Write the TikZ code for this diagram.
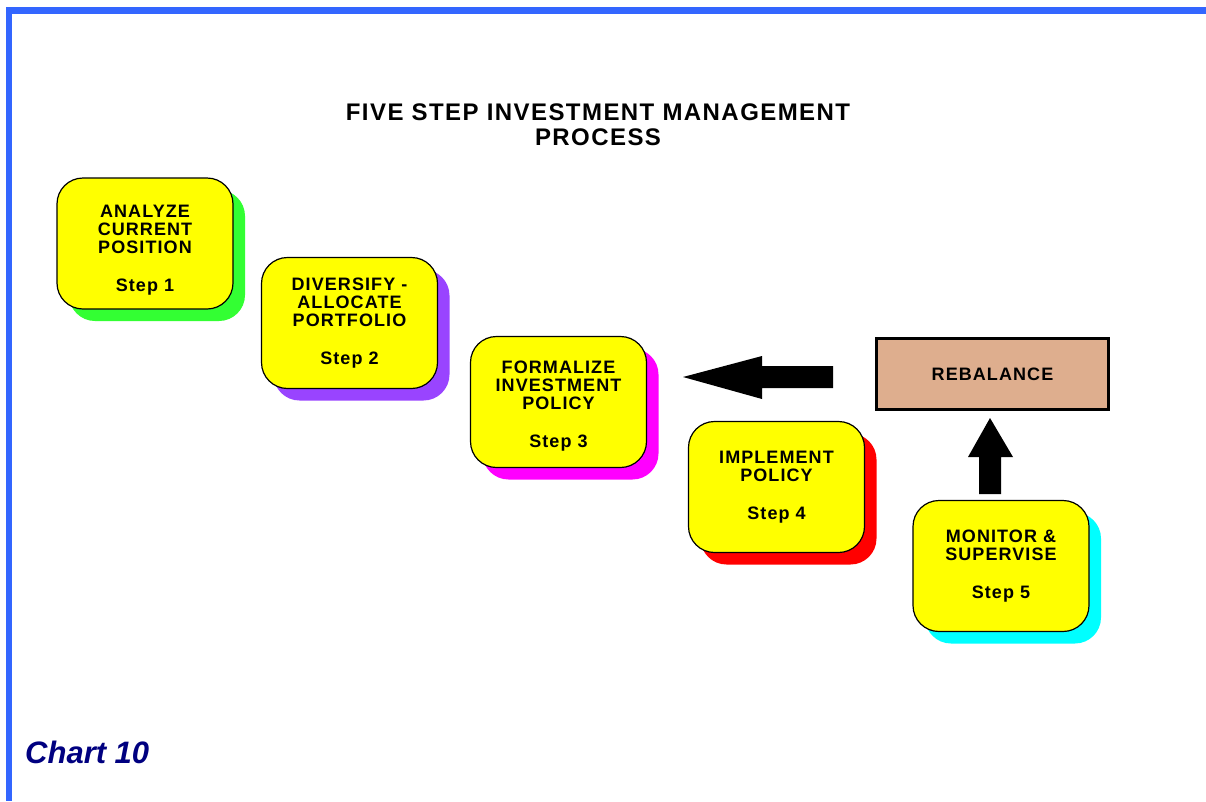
\documentclass[tikz,border=0pt]{standalone}
\usepackage{fontspec}
\usetikzlibrary{shadows}
\newfontfamily\lblfont[LetterSpace=6]{Liberation Sans}
\newfontfamily\chartfont{Liberation Sans}
\definecolor{bordblue}{RGB}{51,102,255}
\definecolor{boxyellow}{RGB}{255,255,0}
\definecolor{shgreen}{RGB}{51,255,51}
\definecolor{shpurple}{RGB}{153,68,255}
\definecolor{shmagenta}{RGB}{255,0,255}
\definecolor{shred}{RGB}{255,0,0}
\definecolor{shcyan}{RGB}{0,255,255}
\definecolor{tan}{RGB}{222,174,142}
\definecolor{navy}{RGB}{0,0,128}
\tikzset{
  stepbox/.style={draw=black, line width=1.2pt, fill=boxyellow, rounded corners=26pt,
    minimum width=176pt, minimum height=131pt, inner sep=0pt, align=center,
    font=\lblfont\bfseries\fontsize{18}{18}\selectfont},
  shade/.style={drop shadow={shadow xshift=12pt, shadow yshift=-12pt, fill=#1, opacity=1}},
  blockarrow/.style={fill=black, draw=none},
}
\begin{document}
\begin{tikzpicture}[x=1pt,y=-1pt]
\useasboundingbox (0,0) rectangle (1206,801);
\fill[white] (0,0) rectangle (1206,801);
% border
\fill[bordblue] (5.7,7.3) rectangle (1206,14.3);
\fill[bordblue] (5.7,7.3) rectangle (12,801);
% title
\node[align=center, font=\lblfont\bfseries\fontsize{24}{25}\selectfont] (title) at (598,125)
  {FIVE STEP INVESTMENT MANAGEMENT\\PROCESS};
% steps
\node[stepbox, shade=shgreen] (s1) at (145,243.5) {\rule{0pt}{25pt}ANALYZE\\CURRENT\\POSITION\\[20pt]Step 1};
\node[stepbox, shade=shpurple] (s2) at (349.5,323) {DIVERSIFY -\\ALLOCATE\\PORTFOLIO\\[20pt]Step 2};
\node[stepbox, shade=shmagenta] (s3) at (558.5,402) {\rule{0pt}{21pt}FORMALIZE\\INVESTMENT\\POLICY\\[20pt]Step 3};
\node[stepbox, shade=shred] (s4) at (776.5,487) {IMPLEMENT\\POLICY\\[20pt]Step 4};
\node[stepbox, shade=shcyan] (s5) at (1001,566) {MONITOR \&\\SUPERVISE\\[20pt]Step 5};
% rebalance
\node[draw=black, line width=3pt, fill=tan, minimum width=232pt, minimum height=71pt,
  inner sep=0pt, font=\lblfont\bfseries\fontsize{18}{18}\selectfont] (reb) at (992.5,374) {REBALANCE};
% block arrows
\fill[blockarrow] (833,366) -- (762,366) -- (762,356) -- (683,377) -- (762,399) -- (762,388) -- (833,388) -- cycle;
\fill[blockarrow] (979,494) -- (979,457) -- (968,457) -- (990,418) -- (1013,457) -- (1001,457) -- (1001,494) -- cycle;
% chart label
\node[anchor=base west, inner sep=0pt, text=navy, font=\chartfont\bfseries\itshape\fontsize{31}{31}\selectfont] (chart) at (25,763) {Chart 10};
\end{tikzpicture}
\end{document}
